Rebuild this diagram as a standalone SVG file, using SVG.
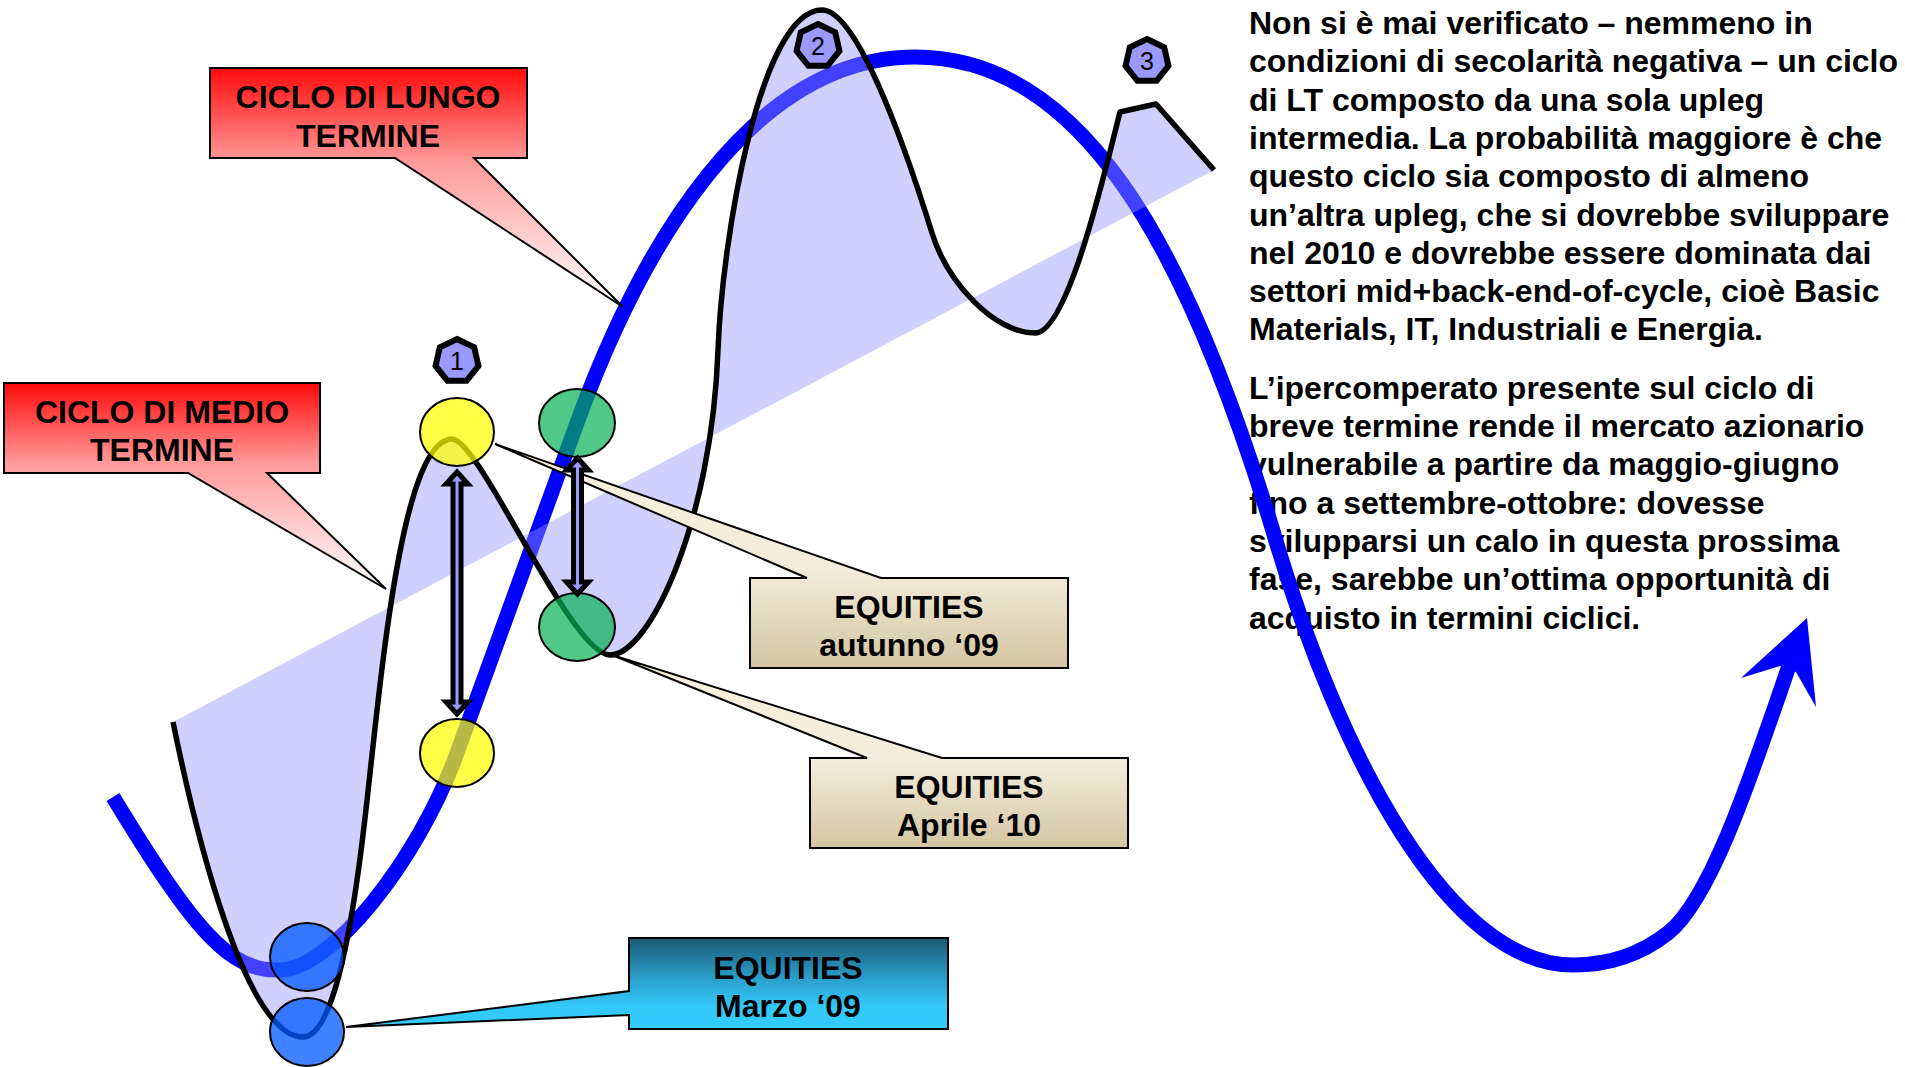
<svg xmlns="http://www.w3.org/2000/svg" xmlns:xlink="http://www.w3.org/1999/xlink" width="1905" height="1067" viewBox="0 0 1905 1067">
  <defs>
    <style>
      .txt { font-family: "Liberation Sans", Arial, sans-serif; font-weight: bold; fill: #000; }
      .para { font-size: 32px; }
      .lbl { font-size: 32px; text-anchor: middle; }
      .num { font-family: "Liberation Sans", Arial, sans-serif; font-size: 25px; text-anchor: middle; fill: #000; }
      .callout { stroke: #000; stroke-width: 2; stroke-linejoin: miter; }
      .dot { stroke: #000; stroke-width: 2; }
      .yellow { fill: #ffff00; fill-opacity: 0.72; }
      .green { fill: #05b054; fill-opacity: 0.7; }
      .blue { fill: #0058ff; fill-opacity: 0.75; }
      .hept { fill: #9999ff; stroke: #000; stroke-width: 6; }
      .darrow { fill: #9999ff; stroke: #000; stroke-width: 5; stroke-linejoin: miter; }
    </style>
    <linearGradient id="gRed" x1="0" y1="0" x2="0" y2="1">
      <stop offset="0" stop-color="#ff0a0a"/>
      <stop offset="0.39" stop-color="#ff9a9a"/>
      <stop offset="1" stop-color="#ffffff"/>
    </linearGradient>
    <linearGradient id="gCream" x1="0" y1="0" x2="0" y2="1">
      <stop offset="0" stop-color="#f8f0da"/>
      <stop offset="0.56" stop-color="#f2ecda"/>
      <stop offset="1" stop-color="#d3c5a2"/>
    </linearGradient>
    <linearGradient id="gTeal" x1="0" y1="0" x2="0" y2="1">
      <stop offset="0" stop-color="#1a5a75"/>
      <stop offset="0.45" stop-color="#2b9fcc"/>
      <stop offset="0.75" stop-color="#33c8f8"/>
      <stop offset="1" stop-color="#33ccff"/>
    </linearGradient>
    <polygon id="heptShape" points="0,-22 17.2,-13.72 21.45,4.9 9.55,19.82 -9.55,19.82 -21.45,4.9 -17.2,-13.72"/>
  </defs>

  <rect width="1905" height="1067" fill="#ffffff"/>

  <!-- commentary text -->
  <g id="commentary" class="txt para">
    <text x="1249" y="34">Non si è mai verificato – nemmeno in</text>
    <text x="1249" y="72.3">condizioni di secolarità negativa – un ciclo</text>
    <text x="1249" y="110.6">di LT composto da una sola upleg</text>
    <text x="1249" y="148.9">intermedia. La probabilità maggiore è che</text>
    <text x="1249" y="187.2">questo ciclo sia composto di almeno</text>
    <text x="1249" y="225.5">un’altra upleg, che si dovrebbe sviluppare</text>
    <text x="1249" y="263.8">nel 2010 e dovrebbe essere dominata dai</text>
    <text x="1249" y="302.1">settori mid+back-end-of-cycle, cioè Basic</text>
    <text x="1249" y="340.4">Materials, IT, Industriali e Energia.</text>
    <text x="1249" y="398.7">L’ipercomperato presente sul ciclo di</text>
    <text x="1249" y="437">breve termine rende il mercato azionario</text>
    <text x="1249" y="475.3">vulnerabile a partire da maggio-giugno</text>
    <text x="1249" y="513.6">fino a settembre-ottobre: dovesse</text>
    <text x="1249" y="551.9">svilupparsi un calo in questa prossima</text>
    <text x="1249" y="590.2">fase, sarebbe un’ottima opportunità di</text>
    <text x="1249" y="628.5">acquisto in termini ciclici.</text>
  </g>

  <!-- long-term cycle: thick blue wave ending in an arrowhead -->
  <g id="long-cycle">
    <path d="M113,797 C195,932 230,972 280,970 C330,970 417,863 457,753 C497,643 540,525 577,423 C640,250 750,57 915,57 C1080,57 1185,240 1273,531 C1340,760 1450,965 1573,965 C1610,965 1640,955 1668,933 C1710,900 1750,780 1790,663" fill="none" stroke="#0000ff" stroke-width="15" stroke-linejoin="round"/>
    <polygon points="1807,618 1741,678 1780,666 1796,672 1816,707" fill="#0000ff"/>
  </g>

  <!-- medium-term cycle: shaded band and black wave -->
  <g id="medium-cycle">
    <path d="M173,722 C195,830 245,1037 303,1037 C330,1037 350,950 365,818 C380,690 400,440 452,439 C480,439 570,654 610,655 C650,655 712,520 718,350 C722,240 760,10 822,10 C855,10 900,130 932,233 C948,284 995,333 1035,333 C1068,333 1106,167 1120,112 L1156,104 L1214,170 Z" fill="#9393ff" fill-opacity="0.44" stroke="none"/>
    <path d="M173,722 C195,830 245,1037 303,1037 C330,1037 350,950 365,818 C380,690 400,440 452,439 C480,439 570,654 610,655 C650,655 712,520 718,350 C722,240 760,10 822,10 C855,10 900,130 932,233 C948,284 995,333 1035,333 C1068,333 1106,167 1120,112 L1156,104 L1214,170" fill="none" stroke="#000" stroke-width="5.5" stroke-linejoin="round"/>
  </g>

  <!-- callouts -->
  <g id="callout-lungo">
    <path class="callout" d="M210,68 H527 V158 H474 L623,307 L395,158 H210 Z" fill="url(#gRed)"/>
    <text class="txt lbl" x="368" y="108">CICLO DI LUNGO</text>
    <text class="txt lbl" x="368" y="147">TERMINE</text>
  </g>
  <g id="callout-medio">
    <path class="callout" d="M4,383 H320 V473 H267 L386,589 L188,473 H4 Z" fill="url(#gRed)"/>
    <text class="txt lbl" x="162" y="423">CICLO DI MEDIO</text>
    <text class="txt lbl" x="162" y="461">TERMINE</text>
  </g>
  <g id="callout-autunno">
    <path class="callout" d="M750,578 H807 L495,444 L881,578 H1068 V668 H750 Z" fill="url(#gCream)"/>
    <text class="txt lbl" x="909" y="618">EQUITIES</text>
    <text class="txt lbl" x="909" y="656">autunno ‘09</text>
  </g>
  <g id="callout-aprile">
    <path class="callout" d="M810,758 H867 L612,655 L942,758 H1128 V848 H810 Z" fill="url(#gCream)"/>
    <text class="txt lbl" x="969" y="798">EQUITIES</text>
    <text class="txt lbl" x="969" y="836">Aprile ‘10</text>
  </g>
  <g id="callout-marzo">
    <path class="callout" d="M629,938 H948 V1029 H629 V1015 L346,1027 L629,991 Z" fill="url(#gTeal)"/>
    <text class="txt lbl" x="788" y="979">EQUITIES</text>
    <text class="txt lbl" x="788" y="1017">Marzo ‘09</text>
  </g>

  <!-- markers on the waves -->
  <g id="yellow-top"><ellipse class="dot yellow" cx="457" cy="432" rx="37" ry="34"/></g>
  <g id="yellow-bottom"><ellipse class="dot yellow" cx="457" cy="753" rx="37" ry="34"/></g>
  <g id="green-top"><ellipse class="dot green" cx="577" cy="423" rx="38" ry="34"/></g>
  <g id="green-bottom"><ellipse class="dot green" cx="577" cy="627" rx="38" ry="34"/></g>
  <g id="blue-upper"><ellipse class="dot blue" cx="307" cy="957" rx="37" ry="34"/></g>
  <g id="blue-lower"><ellipse class="dot blue" cx="307" cy="1032" rx="37" ry="34"/></g>

  <!-- double-headed arrows between markers -->
  <g id="connectors">
    <polygon class="darrow" points="457,472 468,484 461,484 461,702 468,702 457,714 446,702 453,702 453,484 446,484"/>
    <polygon class="darrow" points="577.5,458 588.5,470 581.5,470 581.5,582 588.5,582 577.5,594 566.5,582 573.5,582 573.5,470 566.5,470"/>
  </g>

  <!-- numbered badges -->
  <g id="badge-1">
    <use xlink:href="#heptShape" href="#heptShape" class="hept" transform="translate(457,361)"/>
    <text class="num" x="457" y="370">1</text>
  </g>
  <g id="badge-2">
    <use xlink:href="#heptShape" href="#heptShape" class="hept" transform="translate(818,46)"/>
    <text class="num" x="818" y="55">2</text>
  </g>
  <g id="badge-3">
    <use xlink:href="#heptShape" href="#heptShape" class="hept" transform="translate(1147,61)"/>
    <text class="num" x="1147" y="70">3</text>
  </g>
</svg>
